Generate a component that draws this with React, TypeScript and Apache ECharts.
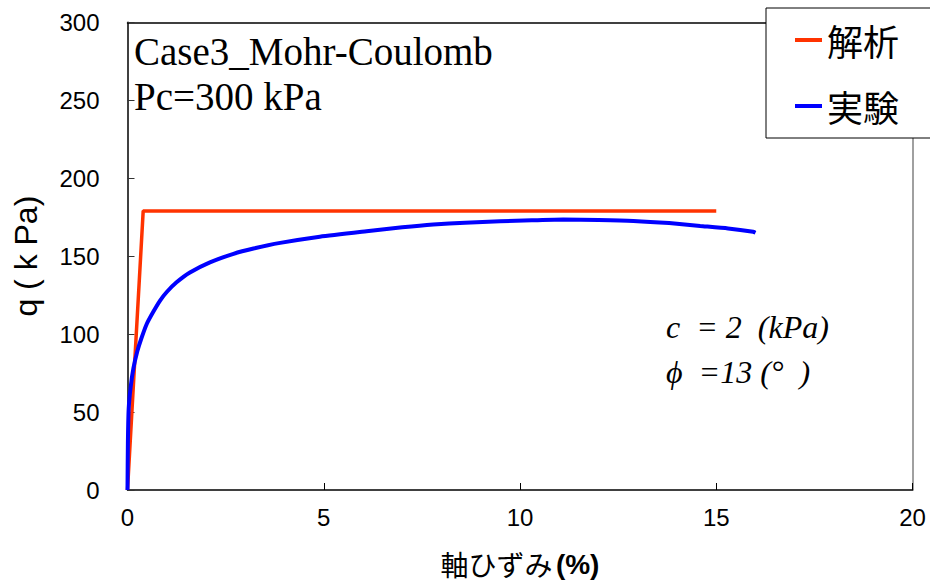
import React, { useEffect, useRef } from "react";
import * as echarts from "echarts";

const xTicks = { min: 0, max: 20, interval: 5 };
const yTicks = { min: 0, max: 300, interval: 50 };

const seriesNames = ["解析", "実験"];

// 解析 (analysis)
const analysisX = [0, 0.4, 15];
const analysisY = [0, 179, 179];

// 実験 (experiment)
const experimentX = [
  0, 0.01, 0.03, 0.08, 0.15, 0.25, 0.35, 0.49, 0.65, 0.83, 1.0, 1.25, 1.59,
  2.1, 2.7, 3.21, 3.89, 4.9, 6.09, 7.0, 7.79, 8.6, 9.49, 10.3, 11.1, 12.0,
  12.89, 13.8, 14.59, 15.3, 15.94, 16.0,
];
const experimentY = [
  0, 30, 52, 66, 78, 89, 97, 106.5, 114, 121.5, 127, 133.2, 139.5, 146, 151.5,
  154.9, 158.5, 162.5, 166, 168.5, 170.3, 171.5, 172.4, 173, 173.5, 173.2,
  172.6, 171.2, 169.4, 167.8, 165.6, 165,
];

const titleLines = ["Case3_Mohr-Coulomb", "Pc=300 kPa"];
const noteLines = ["c  = 2  (kPa)", "ϕ  =13 (°  )"];
const xName = ["軸ひずみ", "(%)"];
const yName = "q ( k Pa)";

const SANS = "'Liberation Sans', Arial, sans-serif";
const SERIF = "'Liberation Serif', 'Times New Roman', serif";
const CJK = "'Noto Sans CJK JP', sans-serif";

export default function App() {
  const ref = useRef<HTMLDivElement>(null);
  useEffect(() => {
    if (!ref.current) return;
    const chart = echarts.init(ref.current, null, { renderer: "svg" });
    const pair = (xs: number[], ys: number[]) => xs.map((x, i) => [x, ys[i]]);
    chart.setOption({
      animation: false,
      backgroundColor: "#fff",
      grid: { left: 127.5, right: 17.5, top: 22.3, bottom: 97 },
      title: {
        text: titleLines.join("\n"),
        left: 134,
        top: 29,
        padding: 0,
        textStyle: {
          fontFamily: SERIF,
          fontSize: 39,
          fontWeight: "normal",
          lineHeight: 45,
          color: "#000",
        },
      },
      legend: {
        data: seriesNames,
        orient: "vertical",
        left: 766,
        top: 8,
        padding: [12, 40, 12, 29],
        itemWidth: 27,
        itemHeight: 4,
        itemGap: 26,
        icon: "rect",
        backgroundColor: "#fff",
        borderColor: "#000",
        borderWidth: 1,
        textStyle: {
          fontFamily: CJK,
          fontSize: 36,
          lineHeight: 40,
          color: "#000",
        },
      },
      xAxis: [
        {
          type: "value",
          min: xTicks.min,
          max: xTicks.max,
          interval: xTicks.interval,
          name: `{a|${xName[0]}} {b|${xName[1]}}`,
          nameLocation: "middle",
          nameGap: 60,
          nameTextStyle: {
            rich: {
              a: { fontFamily: CJK, fontSize: 28, color: "#000" },
              b: { fontFamily: SANS, fontSize: 28, fontWeight: "bold", color: "#000" },
            },
          },
          axisLine: { lineStyle: { color: "#000", width: 1.5 } },
          axisTick: { inside: true, length: 7, lineStyle: { color: "#000", width: 1 } },
          axisLabel: { margin: 15, fontFamily: SANS, fontSize: 24, color: "#000" },
          splitLine: { show: false },
        },
        {
          type: "value",
          position: "top",
          min: xTicks.min,
          max: xTicks.max,
          axisLine: { show: true, onZero: false, lineStyle: { color: "#000", width: 1.5 } },
          axisTick: { show: false },
          axisLabel: { show: false },
          splitLine: { show: false },
        },
      ],
      yAxis: [
        {
          type: "value",
          min: yTicks.min,
          max: yTicks.max,
          interval: yTicks.interval,
          name: yName,
          nameLocation: "middle",
          nameGap: 86,
          nameTextStyle: { fontFamily: SANS, fontSize: 32, color: "#000" },
          axisLine: { show: true, lineStyle: { color: "#000", width: 1.5 } },
          axisTick: { show: true, inside: true, length: 7, lineStyle: { color: "#333", width: 1 } },
          axisLabel: { margin: 28, fontFamily: SANS, fontSize: 24, color: "#000" },
          splitLine: { show: false },
        },
        {
          type: "value",
          position: "right",
          min: yTicks.min,
          max: yTicks.max,
          axisLine: { show: true, onZero: false, lineStyle: { color: "#808080", width: 1.5 } },
          axisTick: { show: false },
          axisLabel: { show: false },
          splitLine: { show: false },
        },
      ],
      graphic: [
        {
          type: "text",
          left: 666,
          top: 304,
          style: {
            text: noteLines.join("\n"),
            font: `italic 32px ${SERIF}`,
            lineHeight: 45,
            fill: "#000",
          },
        },
      ],
      series: [
        {
          name: seriesNames[0],
          type: "line",
          data: pair(analysisX, analysisY),
          showSymbol: false,
          symbol: "none",
          lineStyle: { color: "#FF3300", width: 3.5 },
          itemStyle: { color: "#FF3300" },
        },
        {
          name: seriesNames[1],
          type: "line",
          data: pair(experimentX, experimentY),
          showSymbol: false,
          symbol: "none",
          smooth: 0.2,
          lineStyle: { color: "#0000FF", width: 4 },
          itemStyle: { color: "#0000FF" },
        },
      ],
    });
    return () => chart.dispose();
  }, []);
  return (
    <div
      ref={ref}
      style={{ position: "fixed", left: 0, top: 0, width: 930, height: 587 }}
    />
  );
}
